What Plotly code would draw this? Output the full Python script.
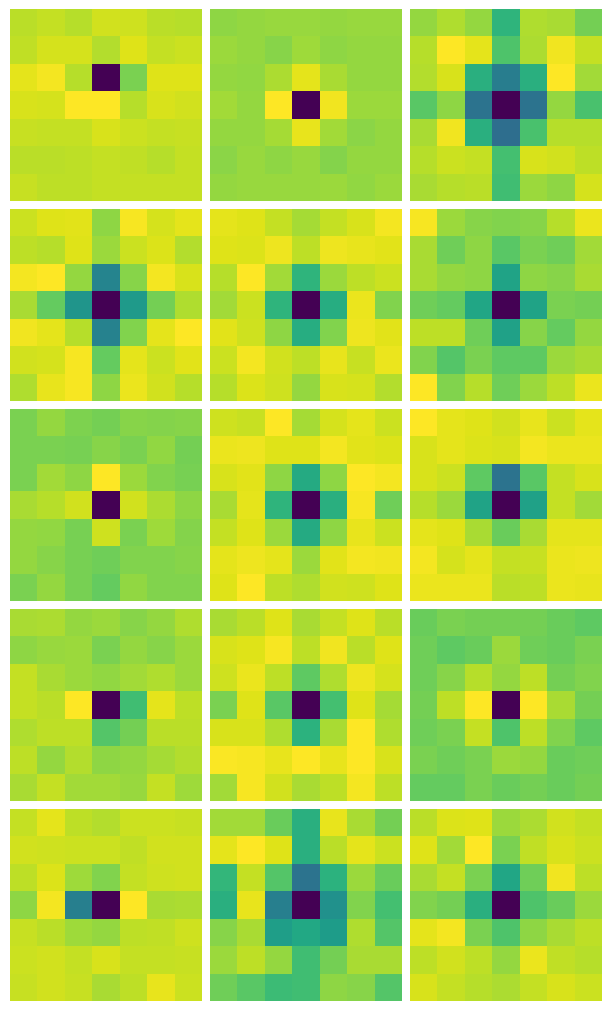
"""Grid of 7x7 kernel heatmaps, each one normalised to its own min and max."""
import plotly.graph_objects as go
from plotly.subplots import make_subplots

r1c1 = [[89.5, 91, 89, 93, 92.5, 89.5, 89],
        [90.5, 93.5, 93.5, 88.5, 95, 91, 92],
        [96, 98.5, 89, 0, 80, 95, 95],
        [94, 93.5, 100, 100, 89, 94, 93],
        [91.5, 91, 91, 94, 92, 91, 91.5],
        [89.5, 89.5, 90, 91, 90.5, 89, 91],
        [91.5, 90, 90, 91, 91, 91, 91]]
r1c2 = [[83, 84, 84.5, 84.5, 84, 84.5, 84.5],
        [85, 84, 82, 85.5, 83, 84, 84],
        [84, 83.5, 87.5, 96, 87, 84, 84],
        [86, 84, 100, 0, 98, 85, 85],
        [84, 84, 86.5, 96.5, 86, 82.5, 84],
        [82.5, 84.5, 83, 84.5, 81.5, 84, 84],
        [84, 84.5, 84.5, 84.5, 85, 83.5, 85]]
r1c3 = [[84, 88, 84, 65, 88, 87, 79],
        [89, 100, 96, 72, 87.5, 98, 91],
        [88.5, 94, 63, 42, 63, 100, 86],
        [74, 83, 38, 0, 38, 84, 71],
        [87, 98, 63, 36, 71, 89, 89],
        [89, 92, 91, 70, 94, 93, 90],
        [87, 89, 89.5, 69, 85, 83, 93.5]]
r2c1 = [[92, 95, 95.5, 83, 99, 93.5, 96],
        [90, 89, 95, 85, 92, 94.5, 88.5],
        [98.5, 100, 84, 45, 82, 98.5, 94],
        [87, 76, 52, 0, 54, 79, 88],
        [98, 96, 89, 44, 81, 96, 100],
        [93, 93.5, 99, 76, 96, 92, 95.5],
        [88, 96.5, 99, 83, 97, 93, 89]]
r2c2 = [[96, 95, 91, 86.5, 91, 94, 98.5],
        [95, 94.5, 97.5, 90, 97.5, 96.5, 95.5],
        [89, 100, 86, 65, 85, 90, 92],
        [86, 92, 65, 0, 62, 97, 81],
        [95.5, 92.5, 83, 62, 81, 97.5, 95.5],
        [92, 98.5, 93, 90, 96.5, 91.5, 97],
        [89, 94.5, 92.5, 84, 94, 93.5, 88.5]]
r2c3 = [[99, 85, 82, 81, 82, 89, 97],
        [87, 78, 83, 74, 80, 78, 86],
        [87, 84, 83, 58, 83, 82, 87],
        [78, 76, 59, 0, 58, 80, 79],
        [90, 90, 78, 57, 82, 76, 84],
        [81, 73, 80, 75, 75, 85, 87],
        [100, 81, 89, 78, 85, 90, 97]]
r3c1 = [[80, 84, 80.5, 79, 82, 81.5, 82],
        [80, 80, 79.5, 82, 80, 83.5, 79],
        [80, 86, 83, 100, 85, 81, 79.5],
        [87, 89, 93, 0, 93, 87.5, 83],
        [84, 83.5, 79.5, 92.5, 80, 85.5, 81.5],
        [84, 82, 79.5, 78, 81, 81, 82],
        [80, 84, 79.5, 76, 83.5, 81, 81]]
r3c2 = [[92.5, 91.5, 100, 86.5, 93.5, 96, 92],
        [97, 97.5, 95, 95, 98.5, 95.5, 94.5],
        [94, 95.5, 83, 61, 83, 100, 98.5],
        [87, 96, 65, 0, 63, 99, 78],
        [91, 95, 85, 61, 83, 96.5, 92],
        [96, 97.5, 96, 85, 95.5, 98.5, 98],
        [95, 100, 90, 88, 93, 92.5, 95]]
r3c3 = [[100, 96, 95, 93, 96.5, 92, 96],
        [94, 96, 94.5, 94, 98.5, 97, 97],
        [94, 92, 75, 38, 74, 91, 94],
        [89, 85, 58, 0, 57, 91, 86],
        [96, 95, 87, 77, 87, 96, 96],
        [98.5, 93.5, 96, 91, 91.5, 97, 97.5],
        [97, 97, 97, 89.5, 90, 97, 96.5]]
r4c1 = [[87, 87.5, 84, 85, 82, 84, 88],
        [83, 84.5, 85, 80, 84, 82, 85],
        [91, 87, 85, 83.5, 86, 88, 85],
        [91, 89.5, 100, 0, 69, 96, 90],
        [88, 90, 90, 73, 79, 89.5, 89.5],
        [90, 84, 88.5, 83, 84, 86.5, 88.5],
        [87, 91, 86, 86, 84.5, 91, 85.5]]
r4c2 = [[87, 89.5, 95, 87, 91, 95, 89.5],
        [94, 95, 99, 90, 98, 89.5, 95],
        [92.5, 97, 90, 75, 88, 97.5, 93.5],
        [80, 95, 74, 0, 70, 95, 86.5],
        [94, 94, 88, 64, 87, 100, 88],
        [99.5, 99, 96.5, 100, 96.5, 100, 94],
        [86, 99, 93, 87, 90, 98.5, 90]]
r4c3 = [[77, 80, 79, 79, 79, 77, 75],
        [78, 75, 77, 85, 78, 77, 80],
        [78, 82, 89, 84, 90, 79, 81],
        [79, 90, 100, 0, 100, 87, 79],
        [78, 80, 91, 72, 90, 81, 75],
        [80, 78, 80, 85, 84, 77, 78],
        [76, 76, 80, 77, 79, 77, 79]]
r5c1 = [[91, 96, 90, 88.5, 92, 92, 91.5],
        [93, 92.5, 92, 92, 90.5, 93, 93],
        [90, 94.5, 85.5, 81, 91, 92.5, 93],
        [83, 98.5, 43, 0, 100, 87, 87.5],
        [91.5, 89.5, 85.5, 84, 90, 90.5, 92.5],
        [92, 93, 91, 94, 91, 91, 91.5],
        [91.5, 93, 91.5, 87, 90, 96.5, 92]]
r5c2 = [[86, 86, 77, 63, 96.5, 87, 79],
        [96, 100, 95, 63, 89.5, 96, 92],
        [66, 91, 73, 38, 64, 85, 77],
        [63, 96.5, 43, 0, 50, 81, 70],
        [82, 87, 56, 60, 55, 88, 73],
        [85, 90, 84, 69, 79, 87, 87],
        [78, 74, 68, 69, 83, 82, 73]]
r5c3 = [[89.5, 94.5, 95, 85, 87.5, 93, 91],
        [95, 86, 100, 80, 90.5, 94, 92],
        [87, 91, 80, 59, 78, 98, 90],
        [81, 79, 63, 0, 72, 77, 85],
        [96, 98.5, 80, 72, 83, 87, 90],
        [90, 93, 90, 84, 97, 90.5, 89],
        [94, 91, 89, 87.5, 91, 94, 92]]

panels = [[r1c1, r1c2, r1c3],
          [r2c1, r2c2, r2c3],
          [r3c1, r3c2, r3c3],
          [r4c1, r4c2, r4c3],
          [r5c1, r5c2, r5c3]]

# plotly's own Viridis has too few stops and goes pale near the yellow end
viridis_hex = ['#440154', '#471365', '#482475', '#463480', '#414487', '#3b528b',
               '#355f8d', '#2f6c8e', '#2a788e', '#25848e', '#21918c', '#1e9c89',
               '#22a884', '#2fb47c', '#44bf70', '#5ec962', '#7ad151', '#9bd93c',
               '#bddf26', '#dfe318', '#fde725']
viridis = [[k / 20, c] for k, c in enumerate(viridis_hex)]

# the page body adds an 8px margin, so the figure is 16px smaller than the window
WIDTH = 595
HEIGHT = 995

fig = make_subplots(rows=5, cols=3,
                    horizontal_spacing=8 / 592,
                    vertical_spacing=8 / 992)

for i, row in enumerate(panels, start=1):
    for j, z in enumerate(row, start=1):
        fig.add_trace(
            go.Heatmap(z=z, colorscale=viridis, zmin=0, zmax=100,
                       showscale=False),
            row=i, col=j
        )

fig.update_xaxes(visible=False)
fig.update_yaxes(visible=False, autorange='reversed')
fig.update_layout(
    width=WIDTH, height=HEIGHT,
    margin=dict(l=2, r=1, t=1, b=2),
    plot_bgcolor='white', paper_bgcolor='white',
)

fig.write_html("out.html")
